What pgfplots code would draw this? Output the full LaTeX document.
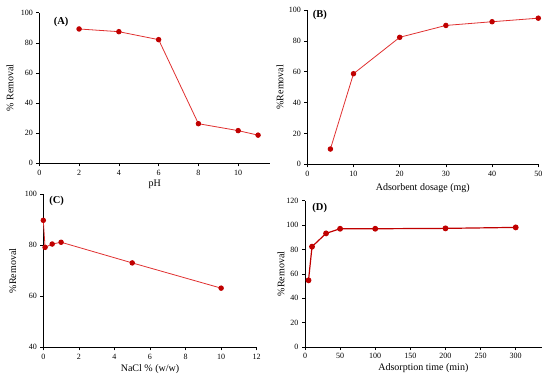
\documentclass[border=0pt]{standalone}
\usepackage{pgfplots}
\pgfplotsset{compat=1.18}
\usepackage{fontspec}
\setmainfont{Liberation Serif}
\definecolor{mk}{HTML}{C00000}
\definecolor{ln}{HTML}{E03030}
\pgfplotsset{
  panel/.style={
    scale only axis,
    axis lines=left,
    axis line style={-, black, line width=0.9pt},
    tick align=outside,
    major tick length=3pt,
    tick style={black, line width=0.6pt},
    /pgf/number format/assume math mode=true,
    tick label style={font=\fontsize{8}{9}\selectfont},
    label style={font=\fontsize{8}{9}\selectfont},
    every axis x label/.style={at={(axis description cs:0.5,0)},anchor=center},
    every axis y label/.style={at={(axis description cs:0,0.5)},anchor=center,rotate=90},
    clip=false,
  },
  ser/.style={color=ln, line width=0.8pt, mark=*, mark size=2.3pt, mark options={fill=mk, draw=mk}},
}
\begin{document}
\begin{tikzpicture}
\useasboundingbox (0pt,0pt) rectangle (550pt,-378pt);
% (A)
\begin{axis}[panel, at={(39.3pt,-163.3pt)}, anchor=south west,
  width=230.7pt, height=150.6pt,
  xmin=0, xmax=11.6, ymin=0, ymax=100,
  xtick={0,2,4,6,8,10}, ytick={0,20,40,60,80,100},
  xlabel={pH}, ylabel={\% Removal},
  xlabel style={yshift=-20.7pt}, ylabel style={yshift=29.3pt}]
\addplot[ser] coordinates {(2,89.2) (4,87.4) (6,82.1) (8,26.3) (10,21.7) (11,18.7)};
\node[font=\bfseries\fontsize{10.5}{12}\selectfont] at (axis cs:1.1,94) {(A)};
\end{axis}
% (B)
\begin{axis}[panel, at={(307.3pt,-164.3pt)}, anchor=south west,
  width=231pt, height=154.3pt,
  xmin=0, xmax=50, ymin=0, ymax=100,
  xtick={0,10,20,30,40,50}, ytick={0,20,40,60,80,100},
  xlabel={Adsorbent dosage (mg)}, ylabel={\%Removal},
  xlabel style={yshift=-24.2pt}, ylabel style={yshift=27.3pt}]
\addplot[ser] coordinates {(5,9.9) (10,58.7) (20,82.3) (30,90.0) (40,92.4) (50,94.7)};
\node[font=\bfseries\fontsize{10.5}{12}\selectfont] at (axis cs:2.7,96.5) {(B)};
\end{axis}
% (C)
\begin{axis}[panel, at={(43.3pt,-347.3pt)}, anchor=south west,
  width=213.4pt, height=153pt,
  xmin=0, xmax=12, ymin=40, ymax=100,
  xtick={0,2,4,6,8,10,12}, ytick={40,60,80,100},
  xlabel={NaCl \% (w/w)}, ylabel={\%Removal},
  xlabel style={yshift=-21.7pt}, ylabel style={yshift=30.6pt}]
\addplot[ser] coordinates {(0,89.8) (0.1,79.2) (0.5,80.5) (1,81.2) (5,73.1) (10,63.2)};
\node[font=\bfseries\fontsize{10.5}{12}\selectfont] at (axis cs:0.75,97.2) {(C)};
\end{axis}
% (D)
\begin{axis}[panel, at={(305pt,-347pt)}, anchor=south west,
  width=236.7pt, height=146.3pt,
  xmin=0, xmax=337, ymin=0, ymax=120,
  xtick={0,50,100,150,200,250,300}, ytick={0,20,40,60,80,100,120},
  xlabel={Adsorption time (min)}, ylabel={\%Removal},
  xlabel style={yshift=-21pt}, ylabel style={yshift=24pt}]
\addplot[ser, color=mk, line width=1.2pt] coordinates {(5,54.7) (10,82.3) (30,93.2) (50,97.0) (100,97.0) (200,97.3) (300,98.1)};
\node[font=\bfseries\fontsize{10.5}{12}\selectfont] at (axis cs:21,114) {(D)};
\end{axis}
\end{tikzpicture}
\end{document}
